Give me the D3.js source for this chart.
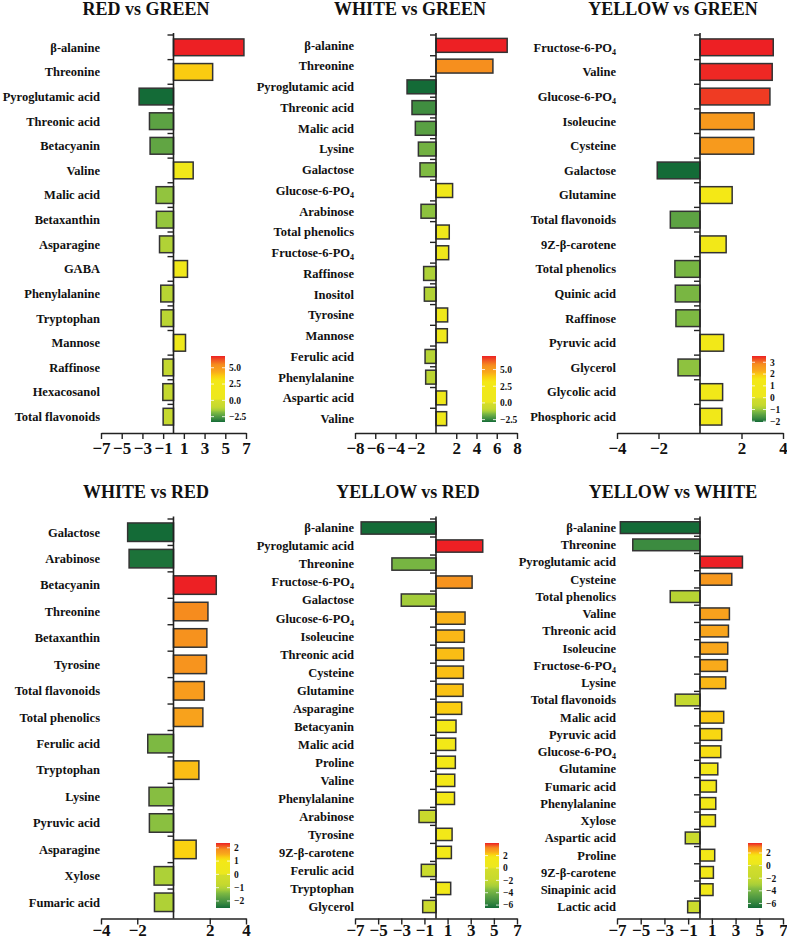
<!DOCTYPE html>
<html>
<head>
<meta charset="utf-8">
<script src="https://cdnjs.cloudflare.com/ajax/libs/d3/7.8.5/d3.min.js"></script>
<style>
  body { margin: 0; background: #fff; }
  svg text { font-family: "Liberation Serif", "Times New Roman", serif; font-weight: bold; fill: #111; }
</style>
</head>
<body>
<div id="chart"></div>
<script>
// ---- data (log2 fold change) ----
const redGreenLabels = ["β-alanine", "Threonine", "Pyroglutamic acid", "Threonic acid", "Betacyanin", "Valine",
  "Malic acid", "Betaxanthin", "Asparagine", "GABA", "Phenylalanine", "Tryptophan", "Mannose", "Raffinose",
  "Hexacosanol", "Total flavonoids"];
const redGreenValues = [6.8, 3.78, -3.32, -2.32, -2.26, 1.9, -1.68, -1.65, -1.35, 1.35, -1.23, -1.2, 1.16, -1.03, -1.03, -1.0];

const whiteGreenLabels = ["β-alanine", "Threonine", "Pyroglutamic acid", "Threonic acid", "Malic acid", "Lysine",
  "Galactose", "Glucose-6-PO4", "Arabinose", "Total phenolics", "Fructose-6-PO4", "Raffinose", "Inositol",
  "Tyrosine", "Mannose", "Ferulic acid", "Phenylalanine", "Aspartic acid", "Valine"];
const whiteGreenValues = [7.03, 5.62, -2.86, -2.37, -2.04, -1.74, -1.58, 1.64, -1.48, 1.31, 1.25, -1.22, -1.15, 1.15, 1.12, -1.08, -1.02, 1.05, 1.05];

const yellowGreenLabels = ["Fructose-6-PO4", "Valine", "Glucose-6-PO4", "Isoleucine", "Cysteine", "Galactose",
  "Glutamine", "Total flavonoids", "9Z-β-carotene", "Total phenolics", "Quinic acid", "Raffinose",
  "Pyruvic acid", "Glycerol", "Glycolic acid", "Phosphoric acid"];
const yellowGreenValues = [3.53, 3.48, 3.37, 2.61, 2.59, -2.06, 1.55, -1.43, 1.26, -1.21, -1.19, -1.16, 1.14, -1.06, 1.09, 1.05];

const whiteRedLabels = ["Galactose", "Arabinose", "Betacyanin", "Threonine", "Betaxanthin", "Tyrosine",
  "Total flavonoids", "Total phenolics", "Ferulic acid", "Tryptophan", "Lysine", "Pyruvic acid",
  "Asparagine", "Xylose", "Fumaric acid"];
const whiteRedValues = [-2.53, -2.45, 2.36, 1.9, 1.84, 1.82, 1.7, 1.62, -1.42, 1.4, -1.35, -1.33, 1.25, -1.07, -1.05];

const yellowRedLabels = ["β-alanine", "Pyroglutamic acid", "Threonine", "Fructose-6-PO4", "Galactose",
  "Glucose-6-PO4", "Isoleucine", "Threonic acid", "Cysteine", "Glutamine", "Asparagine", "Betacyanin",
  "Malic acid", "Proline", "Valine", "Phenylalanine", "Arabinose", "Tyrosine", "9Z-β-carotene",
  "Ferulic acid", "Tryptophan", "Glycerol"];
const yellowRedValues = [-6.47, 4.04, -3.81, 3.12, -3.0, 2.51, 2.45, 2.4, 2.37, 2.34, 2.22, 1.73, 1.7, 1.67, 1.62, 1.6, -1.47, 1.39, 1.33, -1.27, 1.27, -1.15];

const yellowWhiteLabels = ["β-alanine", "Threonine", "Pyroglutamic acid", "Cysteine", "Total phenolics",
  "Valine", "Threonic acid", "Isoleucine", "Fructose-6-PO4", "Lysine", "Total flavonoids", "Malic acid",
  "Pyruvic acid", "Glucose-6-PO4", "Glutamine", "Fumaric acid", "Phenylalanine", "Xylose", "Aspartic acid",
  "Proline", "9Z-β-carotene", "Sinapinic acid", "Lactic acid"];
const yellowWhiteValues = [-6.72, -5.67, 3.58, 2.68, -2.51, 2.48, 2.4, 2.34, 2.31, 2.17, -2.09, 2.0, 1.83, 1.75, 1.5, 1.38, 1.33, 1.3, -1.24, 1.24, 1.13, 1.1, -1.04];

// axis ticks
const oddTicks = [-7, -5, -3, -1, 1, 3, 5, 7];
const evenTicks8 = [-8, -6, -4, -2, 2, 4, 6, 8];
const evenTicks4 = [-4, -2, 2, 4];
// colour bar ticks
const legendTicksA = [-2.5, 0, 2.5, 5];
const legendTicksB = [-2, -1, 0, 1, 2, 3];
const legendTicksC = [-2, -1, 0, 1, 2];
const legendTicksD = [-6, -4, -2, 0, 2];

// ---- colours ----
const negColor = d3.scaleLinear()
  .domain([0, 0.3, 0.45, 0.55, 0.7, 0.85, 1])
  .range(["#d4de2b", "#c6d92e", "#a8cf39", "#80bb42", "#5ca243", "#3b8a40", "#146b37"])
  .clamp(true);
const posColor = d3.scaleLinear()
  .domain([0, 0.45, 0.55, 0.65, 0.8, 0.9, 1])
  .range(["#ece81e", "#f4e816", "#fbcd10", "#f9a81c", "#f68f1e", "#f15b22", "#ed2024"])
  .clamp(true);
function fillFor(v, lo, hi) {
  return v < 0 ? negColor(v / lo) : posColor(v / hi);
}

const svg = d3.select("#chart").append("svg")
  .attr("width", 787).attr("height", 941);

const panels = [
  { title: "RED vs GREEN", labels: redGreenLabels, values: redGreenValues, ticks: oddTicks, domain: [-7, 7],
    xr: [101, 246], yr: [35, 429], axisTop: 33, axisY: 433, titleX: 146, titleY: 15, tickPad: 3,
    legendTicks: legendTicksA, fmt: d3.format(".1f"), lg: [211, 356, 14, 66], pad: 0.32 },
  { title: "WHITE vs GREEN", labels: whiteGreenLabels, values: whiteGreenValues, ticks: evenTicks8, domain: [-8, 8],
    xr: [355, 517], yr: [35, 429], axisTop: 33, axisY: 433, titleX: 410, titleY: 15, tickPad: 3,
    legendTicks: legendTicksA, fmt: d3.format(".1f"), lg: [482, 356, 14, 66], pad: 0.33 },
  { title: "YELLOW vs GREEN", labels: yellowGreenLabels, values: yellowGreenValues, ticks: evenTicks4, domain: [-4, 4],
    xr: [617, 783], yr: [35, 429], axisTop: 33, axisY: 433, titleX: 673, titleY: 15, tickPad: 3,
    legendTicks: legendTicksB, fmt: d3.format("d"), lg: [752, 356, 14, 66], pad: 0.32 },
  { title: "WHITE vs RED", labels: whiteRedLabels, values: whiteRedValues, ticks: evenTicks4, domain: [-4, 4],
    xr: [101, 246], yr: [519, 915.5], axisTop: 516.5, axisY: 918.5, titleX: 146, titleY: 498, tickPad: -0.5,
    legendTicks: legendTicksC, fmt: d3.format("d"), lg: [216, 843, 14, 65], pad: 0.3 },
  { title: "YELLOW vs RED", labels: yellowRedLabels, values: yellowRedValues, ticks: oddTicks, domain: [-7, 7],
    xr: [355, 517], yr: [519, 915.5], axisTop: 516.5, axisY: 918.5, titleX: 408, titleY: 498, tickPad: -0.5,
    legendTicks: legendTicksD, fmt: d3.format("d"), lg: [485, 843, 14, 65], pad: 0.32 },
  { title: "YELLOW vs WHITE", labels: yellowWhiteLabels, values: yellowWhiteValues, ticks: oddTicks, domain: [-7, 7],
    xr: [617, 783], yr: [519, 915.5], axisTop: 516.5, axisY: 918.5, titleX: 673, titleY: 498, tickPad: -0.5,
    legendTicks: legendTicksD, fmt: d3.format("d"), lg: [748, 843, 14, 65], pad: 0.32 }
];

const defs = svg.append("defs");

panels.forEach((p, pi) => drawPanel(p, pi));

function drawPanel(p, pi) {
  const g = svg.append("g");
  const n = p.labels.length;
  const lo = d3.min(p.values), hi = d3.max(p.values);

  const x = d3.scaleLinear().domain(p.domain).range(p.xr);
  const y = d3.scaleBand().domain(d3.range(n)).range(p.yr)
    .paddingInner(p.pad).paddingOuter(p.pad / 2);
  const x0 = x(0);

  // title
  g.append("text")
    .attr("x", p.titleX).attr("y", p.titleY)
    .attr("text-anchor", "middle")
    .style("font-size", "18px")
    .text(p.title);

  // bars
  g.selectAll("rect.bar")
    .data(p.values)
    .join("rect")
    .attr("class", "bar")
    .attr("x", d => x(Math.min(0, d)))
    .attr("width", d => Math.abs(x(d) - x0))
    .attr("y", (d, i) => y(i))
    .attr("height", y.bandwidth())
    .attr("fill", d => fillFor(d, lo, hi))
    .attr("stroke", "#333")
    .attr("stroke-width", 1.5);

  // category labels
  const lab = g.selectAll("text.lab")
    .data(p.labels)
    .join("text")
    .attr("class", "lab")
    .attr("x", p.xr[0] - 1)
    .attr("y", (d, i) => y(i) + y.bandwidth() / 2)
    .attr("dy", "0.35em")
    .attr("text-anchor", "end")
    .style("font-size", "12.5px");
  lab.each(function (d) {
    const t = d3.select(this);
    if (d.endsWith("PO4")) {
      t.append("tspan").text(d.slice(0, -1));
      t.append("tspan").text("4").attr("dy", 3).style("font-size", "8px");
    } else {
      t.text(d);
    }
  });

  // y axis line and ticks between categories
  g.append("line")
    .attr("x1", x0).attr("x2", x0)
    .attr("y1", p.axisTop).attr("y2", p.axisY)
    .attr("stroke", "#222").attr("stroke-width", 1.6);
  const step = y.step();
  g.selectAll("line.ytick")
    .data(d3.range(n))
    .join("line")
    .attr("class", "ytick")
    .attr("x1", x0 - 6).attr("x2", x0)
    .attr("y1", i => y(i) - step * p.pad / 2)
    .attr("y2", i => y(i) - step * p.pad / 2)
    .attr("stroke", "#222").attr("stroke-width", 1.4);

  // x axis
  const ax = g.append("g")
    .attr("transform", `translate(0,${p.axisY})`)
    .call(d3.axisBottom(x).tickValues(p.ticks).tickSize(6).tickSizeOuter(0)
      .tickPadding(p.tickPad).tickFormat(d3.format("d")));
  ax.attr("font-family", null).attr("font-size", null);
  ax.select(".domain").attr("stroke", "#222").attr("stroke-width", 1.6);
  ax.selectAll(".tick line").attr("stroke", "#222").attr("stroke-width", 1.4);
  ax.selectAll(".tick text").style("font-size", "17px").attr("fill", "#111");

  // colour bar legend
  const [lx, ly, lw, lh] = p.lg;
  const gid = "grad" + pi;
  const grad = defs.append("linearGradient")
    .attr("id", gid).attr("x1", 0).attr("x2", 0).attr("y1", 1).attr("y2", 0);
  d3.range(0, 1.0001, 0.025).forEach(t => {
    grad.append("stop")
      .attr("offset", t)
      .attr("stop-color", fillFor(lo + t * (hi - lo), lo, hi));
  });
  g.append("rect")
    .attr("x", lx).attr("y", ly).attr("width", lw).attr("height", lh)
    .attr("fill", `url(#${gid})`);
  const ly_ = d3.scaleLinear().domain([lo, hi]).range([ly + lh, ly]);
  p.legendTicks.forEach(v => {
    const yy = ly_(v);
    g.append("line").attr("x1", lx).attr("x2", lx + 3).attr("y1", yy).attr("y2", yy)
      .attr("stroke", "#fff").attr("stroke-width", 0.8);
    g.append("line").attr("x1", lx + lw - 3).attr("x2", lx + lw).attr("y1", yy).attr("y2", yy)
      .attr("stroke", "#fff").attr("stroke-width", 0.8);
    g.append("text")
      .attr("x", lx + lw + 4).attr("y", yy).attr("dy", "0.35em")
      .style("font-size", "9.5px")
      .text(p.fmt(v));
  });
}
</script>
</body>
</html>
